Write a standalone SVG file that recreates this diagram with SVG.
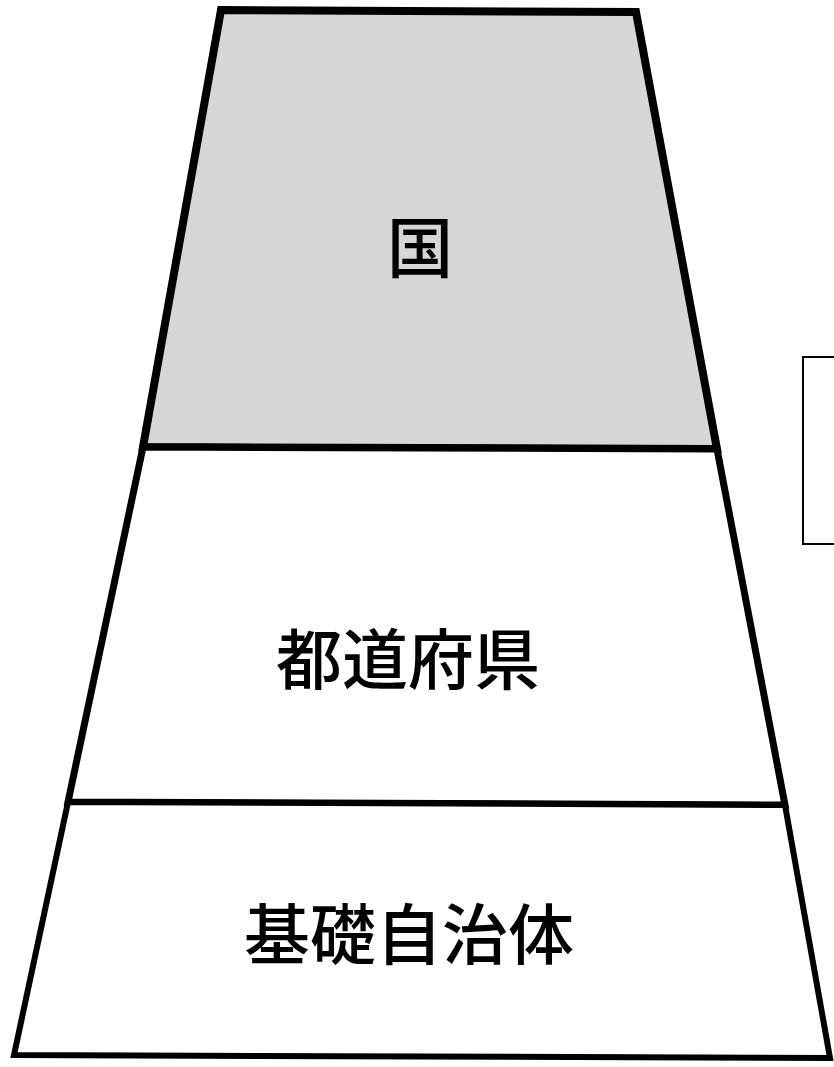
<svg xmlns="http://www.w3.org/2000/svg" width="834" height="1067" viewBox="0 0 834 1067">
<style>
.tier{stroke:#000;stroke-linejoin:miter}
.lbl{font-family:"Noto Sans CJK JP","Noto Sans CJK SC",sans-serif;font-size:66px;font-weight:500;fill:#000;text-anchor:middle;dominant-baseline:central}
</style>
<rect width="834" height="1067" fill="#fff"/>
<g id="side-box">
<path d="M834,357 H803 V544 H834" fill="none" stroke="#000" stroke-width="2"/>
</g>
<g id="kuni">
<polygon class="tier" points="221,10 636,12 717,449 143,447" fill="#d6d6d6" stroke-width="8"/>
<text class="lbl" x="420" y="243" font-size="60">国</text>
</g>
<g id="todofuken">
<polygon class="tier" points="143,447 717,449 785,805 68,802" fill="#fff" stroke-width="7"/>
<text class="lbl" x="408" y="655">都道府県</text>
</g>
<g id="kiso">
<polygon class="tier" points="68,802 785,805 830,1058 14,1055" fill="#fff" stroke-width="6"/>
<text class="lbl" x="409" y="930">基礎自治体</text>
</g>
</svg>
